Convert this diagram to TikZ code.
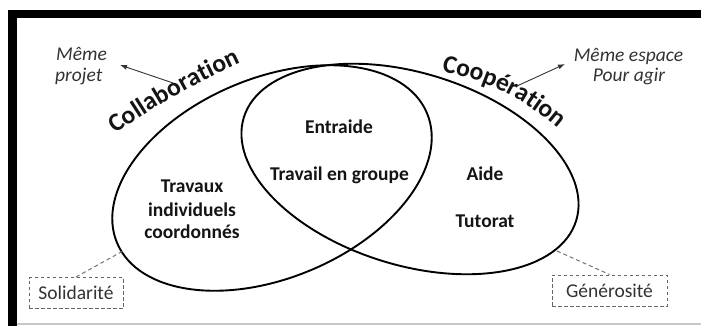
\documentclass[tikz,border=0pt]{standalone}
\usepackage{fontspec}
\setmainfont{Carlito}
\usetikzlibrary{arrows.meta,decorations.text}
\newcommand\mycurvefont{\color{black!92}\fontsize{25.5}{26}\selectfont\bfseries}
\begin{document}
\begin{tikzpicture}[x=1pt,y=-1pt,
  ell/.style={draw=black,line width=1.9pt},
  lbl/.style={font=\fontsize{19.5}{22}\selectfont\bfseries, text=black!92, inner sep=0pt, anchor=base},
  note/.style={font=\fontsize{19.5}{22}\selectfont\itshape, text=black!80, inner sep=0pt},
  dbox/.style={draw=black!60, dash pattern=on 3.5pt off 2.5pt, line width=1pt, font=\fontsize{19.5}{22}\selectfont, text=black!80, minimum height=31pt, inner sep=0pt},
  ptr/.style={draw=black!80, line width=0.9pt, -{Latex[length=7pt,width=5pt]}},
  dline/.style={draw=black!55, dash pattern=on 4pt off 3pt, line width=1pt},
  curvetext/.style={decorate, decoration={text along path, text={|\mycurvefont|#1}, text align=center}}
]
\useasboundingbox (0,0) rectangle (701,326);
\fill[white] (0,0) rectangle (701,326);
% screenshot frame
\fill[black] (8,10) rectangle (701,18);
\fill[black] (8,10) rectangle (17,326);
\draw[black!22, line width=1.2pt] (17,324) -- (701,324);

% ellipses
\draw[ell, rotate around={22.7:(272,178)}] (272,178) ellipse [x radius=168pt, y radius=100pt];
\draw[ell, rotate around={-17.3:(410,169)}] (410,169) ellipse [x radius=174pt, y radius=96pt];

% curved titles
\coordinate (colS) at (108.3,139);
\coordinate (colE) at (248.7,59);
\coordinate (coopS) at (433,69.6);
\coordinate (coopE) at (565,134.4);
\path[curvetext=Collaboration] (colS) to[bend left=5] (colE);
\path[curvetext=Coopération] (coopS) to[bend left=15] (coopE);

% inner labels
\node[lbl] (entraide) at (339,134) {Entraide};
\node[lbl] (travail) at (339.5,180) {Travail en groupe};
\node[lbl] (trav1) at (192,192) {Travaux};
\node[lbl] (trav2) at (192,216) {individuels};
\node[lbl] (trav3) at (192,238) {coordonnés};
\node[lbl] (aide) at (485,180) {Aide};
\node[lbl] (tutorat) at (485,227) {Tutorat};

% notes
\node[note, anchor=base west] (meme1) at (56,61) {Même};
\node[note, anchor=base west] (projet) at (55,82) {projet};
\node[note, anchor=base] (meme2) at (628.5,62) {Même espace};
\node[note, anchor=base] (agir) at (629,82) {Pour agir};

\coordinate (lt) at (173,83);
\coordinate (lh) at (120,65);
\coordinate (rt) at (517,86);
\coordinate (rh) at (565,64);
\draw[ptr] (lt) -- (lh);
\draw[ptr] (rt) -- (rh);

% dashed boxes
\node[dbox, minimum width=94pt] (sol) at (76,293) {Solidarité};
\node[dbox, minimum width=115pt] (gen) at (609.5,290.5) {Générosité};
\coordinate (solend) at (123,251);
\coordinate (genend) at (557,251);
\draw[dline] (sol.north) -- (solend);
\draw[dline] (genend) -- (gen.north);
\end{tikzpicture}
\end{document}
